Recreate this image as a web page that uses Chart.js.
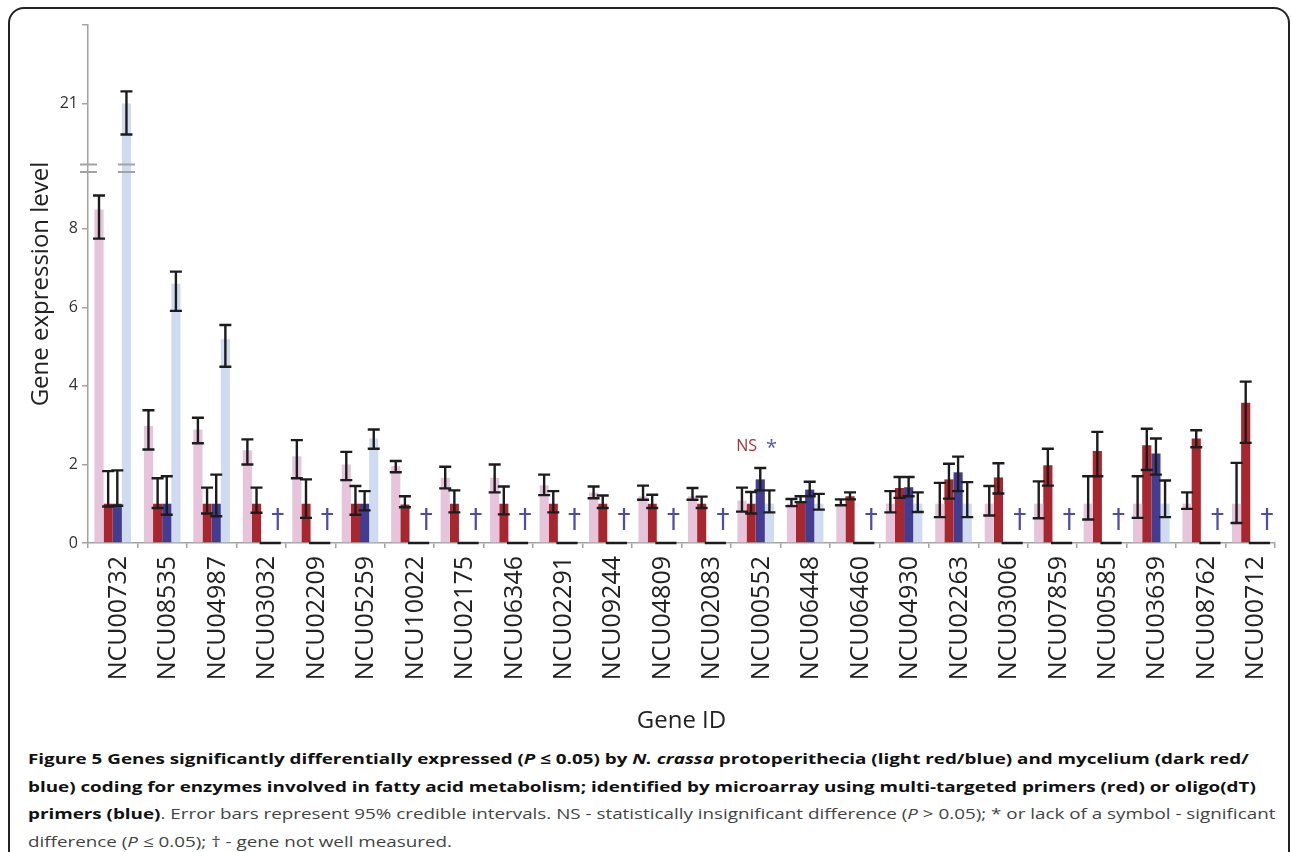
<!DOCTYPE html>
<html>
<head>
<meta charset="utf-8">
<script src="https://cdn.jsdelivr.net/npm/chart.js@4.4.1/dist/chart.umd.min.js"></script>
<style>
  html, body { margin: 0; padding: 0; background: #fff; overflow: hidden; }
  body { width: 1292px; height: 852px; position: relative; }
  #frame { position: absolute; left: 8px; top: 7px; width: 1278px; height: 900px;
           border: 2px solid #222; border-radius: 16px; }
  #chartBox { position: absolute; left: 0; top: 0; }
  #caption { position: absolute; left: 28px; top: 745px; transform-origin: 0 0;
             font-family: "Open Sans", sans-serif; font-size: 15px; color: #444; }
  #caption div { white-space: nowrap; height: 27.5px; line-height: 27.5px; }
  #caption b { color: #111; }
</style>
</head>
<body>
<div id="frame"></div>
<canvas id="chartBox" width="1292" height="738"></canvas>
<div id="caption">
  <div id="capLine1"><b>Figure 5 Genes significantly differentially expressed (<i>P</i> ≤ 0.05) by <i>N. crassa</i> protoperithecia (light red/blue) and mycelium (dark red/</b></div>
  <div><b>blue) coding for enzymes involved in fatty acid metabolism; identified by microarray using multi-targeted primers (red) or oligo(dT)</b></div>
  <div><b>primers (blue)</b>. Error bars represent 95% credible intervals. NS - statistically insignificant difference (<i>P</i> &gt; 0.05); * or lack of a symbol - significant</div>
  <div>difference (<i>P</i> ≤ 0.05); † - gene not well measured.</div>
</div>
<script>
// Gene expression, fatty acid metabolism genes

const genes = ["NCU00732", "NCU08535", "NCU04987", "NCU03032", "NCU02209", "NCU05259",
  "NCU10022", "NCU02175", "NCU06346", "NCU02291", "NCU09244", "NCU04809", "NCU02083",
  "NCU00552", "NCU06448", "NCU06460", "NCU04930", "NCU02263", "NCU03006", "NCU07859",
  "NCU00585", "NCU03639", "NCU08762", "NCU00712"];

// protoperithecia, multi-targeted primers (light red)
const lightRed   = [8.49, 2.98, 2.89, 2.36, 2.21, 2.0, 1.96, 1.66, 1.66, 1.47, 1.28, 1.19, 1.19, 1.08, 1.0, 1.0, 1.0, 1.0, 1.0, 1.0, 1.0, 1.0, 1.0, 1.0];
const lightRedLo = [7.75, 2.38, 2.54, 2.0, 1.65, 1.6, 1.8, 1.39, 1.29, 1.22, 1.14, 1.1, 1.1, 0.8, 0.94, 0.96, 0.78, 0.66, 0.7, 0.63, 0.6, 0.64, 0.87, 0.51];
const lightRedHi = [8.85, 3.38, 3.19, 2.64, 2.62, 2.32, 2.09, 1.94, 2.0, 1.74, 1.44, 1.46, 1.4, 1.41, 1.12, 1.11, 1.32, 1.53, 1.45, 1.57, 1.7, 1.7, 1.29, 2.04];

// mycelium, multi-targeted primers (dark red)
const darkRed   = [1, 1, 1, 1, 1, 1, 0.98, 1, 1, 1, 1, 1, 1, 1, 1.06, 1.19, 1.4, 1.62, 1.67, 1.98, 2.34, 2.49, 2.66, 3.57];
const darkRedLo = [0.93, 0.89, 0.75, 0.77, 0.64, 0.72, 0.91, 0.78, 0.73, 0.78, 0.89, 0.89, 0.89, 0.75, 1.04, 1.11, 1.15, 1.13, 1.26, 1.46, 1.7, 1.86, 2.44, 2.55];
const darkRedHi = [1.83, 1.65, 1.41, 1.41, 1.62, 1.45, 1.19, 1.34, 1.44, 1.32, 1.21, 1.23, 1.18, 1.3, 1.19, 1.29, 1.68, 2.02, 2.03, 2.4, 2.83, 2.91, 2.87, 4.11];

// mycelium, oligo(dT) primers (dark blue)
const darkBlue   = [1, 1, 1, 0, 0, 1, 0, 0, 0, 0, 0, 0, 0, 1.62, 1.36, 0, 1.42, 1.8, 0, 0, 0, 2.28, 0, 0];
const darkBlueLo = [0.95, 0.72, 0.68, 0, 0, 0.83, 0, 0, 0, 0, 0, 0, 0, 1.34, 1.19, 0, 1.19, 1.32, 0, 0, 0, 1.74, 0, 0];
const darkBlueHi = [1.85, 1.7, 1.74, 0, 0, 1.32, 0, 0, 0, 0, 0, 0, 0, 1.91, 1.56, 0, 1.68, 2.2, 0, 0, 0, 2.66, 0, 0];

// protoperithecia, oligo(dT) primers (light blue)
const lightBlue   = [21, 6.6, 5.19, 0, 0, 2.66, 0, 0, 0, 0, 0, 0, 0, 1.0, 1.0, 0, 1.0, 1.0, 0, 0, 0, 1.0, 0, 0];
const lightBlueLo = [20.21, 5.91, 4.49, 0, 0, 2.4, 0, 0, 0, 0, 0, 0, 0, 0.78, 0.85, 0, 0.79, 0.66, 0, 0, 0, 0.66, 0, 0];
const lightBlueHi = [21.31, 6.91, 5.55, 0, 0, 2.89, 0, 0, 0, 0, 0, 0, 0, 1.34, 1.25, 0, 1.29, 1.55, 0, 0, 0, 1.59, 0, 0];

// significance symbols
const redMarks  = ["", "", "", "", "", "", "", "", "", "", "", "", "", "NS", "", "", "", "", "", "", "", "", "", ""];
const blueMarks = ["", "", "", "†", "†", "", "†", "†", "†", "†", "†", "†", "†", "*", "", "†", "", "", "†", "†", "†", "", "†", "†"];

const yTickValues = [0, 2, 4, 6, 8, 21, 23];
const yTickLabels = ["0", "2", "4", "6", "8", "21", ""];

// broken y axis: 0..BREAK_LOW, gap, BREAK_HIGH..max
const BREAK_LOW = 9.45;
const BREAK_HIGH = 19.45;
const BREAK_GAP = 7.5;

class BrokenScale extends Chart.LinearScale {
  _k() {
    return (this.height - BREAK_GAP) / ((BREAK_LOW - this.min) + (this.max - BREAK_HIGH));
  }
  getPixelForValue(value) {
    if (value === null || value === undefined || isNaN(value)) return NaN;
    const k = this._k();
    const low = (BREAK_LOW - this.min) * k;
    let d;
    if (value <= BREAK_LOW) d = (value - this.min) * k;
    else if (value >= BREAK_HIGH) d = low + BREAK_GAP + (value - BREAK_HIGH) * k;
    else d = low + BREAK_GAP * (value - BREAK_LOW) / (BREAK_HIGH - BREAK_LOW);
    return this.bottom - d;
  }
  getValueForPixel(pixel) {
    const k = this._k();
    const low = (BREAK_LOW - this.min) * k;
    const d = this.bottom - pixel;
    if (d <= low) return this.min + d / k;
    if (d >= low + BREAK_GAP) return BREAK_HIGH + (d - low - BREAK_GAP) / k;
    return BREAK_LOW + (d - low) / BREAK_GAP * (BREAK_HIGH - BREAK_LOW);
  }
}
BrokenScale.id = "broken";
BrokenScale.defaults = {};
Chart.register(BrokenScale);

const AXIS_GREY = "#a3a3a3";

const markPlugin = {
  id: "marks",
  afterDatasetsDraw(chart) {
    const { ctx } = chart;
    const y = chart.scales.y;
    const sets = chart.data.datasets;

    // break marks on the axis and across any bar that crosses it
    const pLow = y.getPixelForValue(BREAK_LOW);
    const pHigh = y.getPixelForValue(BREAK_HIGH);
    const ax = chart.chartArea.left;
    ctx.save();
    ctx.strokeStyle = AXIS_GREY;
    ctx.lineWidth = 2;
    ctx.beginPath();
    [pLow, pHigh].forEach((p) => {
      ctx.moveTo(ax - 8, p);
      ctx.lineTo(ax + 9, p);
    });
    sets.forEach((ds, i) => {
      chart.getDatasetMeta(i).data.forEach((bar, j) => {
        if (ds.data[j] > BREAK_HIGH) {
          [pLow, pHigh].forEach((p) => {
            ctx.moveTo(bar.x - bar.width / 2 - 4, p);
            ctx.lineTo(bar.x + bar.width / 2 + 4, p);
          });
        }
      });
    });
    ctx.stroke();

    // error bars
    ctx.strokeStyle = "#1c1c1c";
    ctx.lineWidth = 2.4;
    ctx.beginPath();
    sets.forEach((ds, i) => {
      chart.getDatasetMeta(i).data.forEach((bar, j) => {
        const yLo = y.getPixelForValue(ds.errLo[j]);
        const yHi = y.getPixelForValue(ds.errHi[j]);
        const half = 6;
        ctx.moveTo(bar.x, yLo);
        ctx.lineTo(bar.x, yHi);
        ctx.moveTo(bar.x - half, yLo);
        ctx.lineTo(bar.x + half, yLo);
        ctx.moveTo(bar.x - half, yHi);
        ctx.lineTo(bar.x + half, yHi);
      });
    });
    ctx.stroke();

    // symbols
    const lr = chart.getDatasetMeta(0).data;
    const dr = chart.getDatasetMeta(1).data;
    const lb = chart.getDatasetMeta(3).data;
    ctx.textAlign = "center";
    ctx.textBaseline = "middle";
    genes.forEach((g, j) => {
      const top = Math.max(...sets.map((ds) => ds.errHi[j]));
      const yMark = y.getPixelForValue(top) - 22;
      if (blueMarks[j] === "†") {
        ctx.fillStyle = "#4d4ca6";
        ctx.font = "26px 'DejaVu Sans'";
        ctx.fillText("†", lb[j].x + 3, y.getPixelForValue(0) - 22);
      } else if (blueMarks[j] === "*") {
        ctx.fillStyle = "#5a58b0";
        ctx.font = "20px 'Open Sans'";
        ctx.fillText("*", lb[j].x + 2, yMark + 2);
      }
      if (redMarks[j]) {
        ctx.fillStyle = "#b52c37";
        ctx.font = "16px 'Open Sans'";
        ctx.fillText(redMarks[j], (lr[j].x + dr[j].x) / 2, yMark);
      }
    });
    ctx.restore();
  },
};

Chart.defaults.font.family = "'Open Sans', sans-serif";

function errProps(lo, hi) {
  return { errLo: lo, errHi: hi };
}

new Chart(document.getElementById("chartBox"), {
  type: "bar",
  data: {
    labels: genes,
    datasets: [
      { label: "protoperithecia (multi-targeted)", data: lightRed, backgroundColor: "#e5c4dc", ...errProps(lightRedLo, lightRedHi) },
      { label: "mycelium (multi-targeted)", data: darkRed, backgroundColor: "#a8272e", ...errProps(darkRedLo, darkRedHi) },
      { label: "mycelium (oligo(dT))", data: darkBlue, backgroundColor: "#423d91", ...errProps(darkBlueLo, darkBlueHi) },
      { label: "protoperithecia (oligo(dT))", data: lightBlue, backgroundColor: "#cfdbf1", ...errProps(lightBlueLo, lightBlueHi) },
    ],
  },
  options: {
    responsive: false,
    animation: false,
    categoryPercentage: 0.74,
    barPercentage: 1.0,
    layout: { padding: { top: 25, right: 17, left: 0, bottom: 0 } },
    plugins: { legend: { display: false }, tooltip: { enabled: false } },
    scales: {
      x: {
        afterFit: (s) => { s.height = 195; },
        border: { color: AXIS_GREY, width: 1.5 },
        grid: { drawOnChartArea: false, drawTicks: true, tickLength: 5, color: AXIS_GREY, lineWidth: 1.5, offset: true },
        ticks: { autoSkip: false, minRotation: 90, maxRotation: 90, padding: 8, labelOffset: 6,
                 color: "#222", font: { size: 25 } },
        title: { display: true, text: "Gene ID", color: "#222", font: { size: 24 }, padding: { top: 0, bottom: 2 } },
      },
      y: {
        type: "broken",
        min: 0,
        max: 23,
        afterFit: (s) => { s.width = 88; },
        afterBuildTicks: (axis) => { axis.ticks = yTickValues.map((v) => ({ value: v })); },
        border: { color: AXIS_GREY, width: 1.5 },
        grid: { drawOnChartArea: false, drawTicks: true, tickLength: 6, color: AXIS_GREY, lineWidth: 1.5 },
        ticks: { padding: 4, color: "#333", font: { size: 16 },
                 callback: (v) => yTickLabels[yTickValues.indexOf(v)] },
        title: { display: true, text: "Gene expression level", color: "#222", font: { size: 24 }, padding: { top: 27, bottom: 0 } },
      },
    },
  },
  plugins: [markPlugin],
});

// fit caption lines to the figure width
const cap = document.getElementById("caption");
const line1 = document.getElementById("capLine1");
cap.style.transform = "scaleX(" + (1247 / line1.scrollWidth) + ")";
</script>
</body>
</html>
